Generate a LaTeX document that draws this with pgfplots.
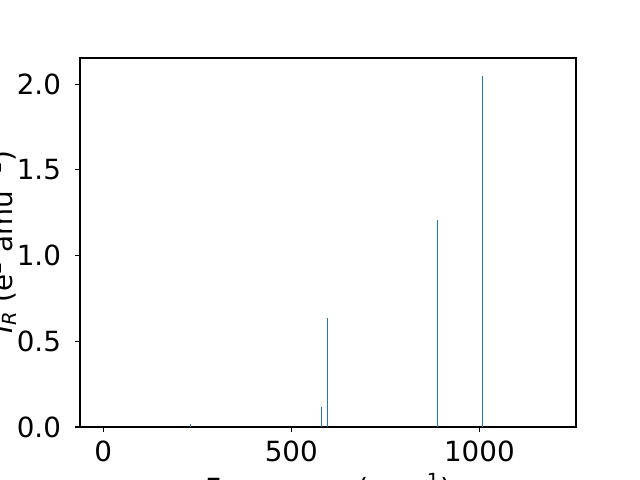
\documentclass[border=0pt]{standalone}
\usepackage{pgfplots}
\pgfplotsset{compat=1.18}
\usepackage{fontspec}
\setmainfont{DejaVu Sans}
\definecolor{mplblue}{HTML}{1F77B4}
\begin{document}
\begin{tikzpicture}
\path[use as bounding box] (-57.6pt,-38.16pt) rectangle ++(460.8pt,345.6pt);
\clip (-57.6pt,-38.16pt) rectangle ++(460.8pt,345.6pt);
\begin{axis}[
  at={(0,0)}, anchor=south west,
  scale only axis, width=357.12pt, height=265.68pt,
  xmin=-62, xmax=1257, ymin=0, ymax=2.1525,
  axis line style={line width=0.8pt},
  tick style={line width=0.8pt, black},
  tick align=outside, major tick length=3.5pt,
  xtick pos=bottom, ytick pos=left,
  xtick={0,500,1000}, ytick={0,0.5,1,1.5,2},
  /pgf/number format/assume math mode=true,
  /pgf/number format/1000 sep={},
  yticklabel style={/pgf/number format/fixed, /pgf/number format/fixed zerofill, /pgf/number format/precision=1,
    anchor=east, inner sep=0pt, xshift=-10pt},
  xticklabel style={anchor=north, inner sep=0pt, yshift=-6.5pt},
  every tick label/.append style={font=\fontsize{20}{24}\selectfont},
  label style={font=\fontsize{20}{24}\selectfont},
  xlabel={Frequency (cm\textsuperscript{−1})},
  ylabel={\textit{I}\textsubscript{\textit{R}} (e\textsuperscript{2} amu\textsuperscript{−1})},
  xlabel style={at={(axis description cs:0.5,0)}, anchor=north, inner sep=0pt, yshift=-33.5pt},
  ylabel style={at={(axis description cs:-0.127,0.5)}, anchor=south, inner sep=0pt},
]
\addplot[ycomb, mplblue, line width=0.75pt, mark=none] coordinates {
  (231,0.017) (580,0.117) (596,0.635) (888,1.206) (1008,2.05)
};
\end{axis}
\end{tikzpicture}
\end{document}
